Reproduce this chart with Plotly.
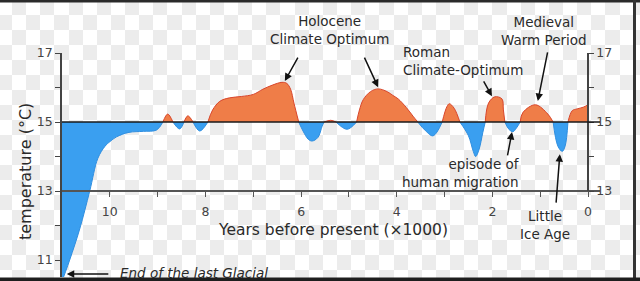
import plotly.graph_objects as go

W, H = 640, 281

# ---- data: thousand years before present vs temperature (°C) ----
years = [11.05, 10.84, 10.63, 10.42, 10.25, 10.1, 10.0, 9.86, 9.6, 9.3, 9.02, 8.89,
         8.79, 8.68,
         8.54, 8.45,
         8.37, 8.26,
         8.12, 7.95,
         7.85, 7.7, 7.5, 7.25, 7.0, 6.8, 6.6, 6.4, 6.3, 6.22, 6.15, 6.05,
         5.96, 5.85, 5.77, 5.65, 5.56, 5.52,
         5.38, 5.27,
         5.04, 4.84,
         4.78, 4.7, 4.55, 4.39, 4.2, 4.08, 3.97, 3.8, 3.66, 3.56,
         3.4, 3.24, 3.05,
         2.95, 2.9, 2.8, 2.68,
         2.5, 2.4, 2.35, 2.28, 2.2, 2.15,
         2.08, 1.95, 1.8, 1.77, 1.74,
         1.65, 1.57, 1.5, 1.42,
         1.36, 1.1, 0.84, 0.73,
         0.63, 0.54, 0.48, 0.42,
         0.33, 0.23, 0.1, 0.0]
temps = [10.2, 11.0, 11.9, 13.0, 13.95, 14.3, 14.43, 14.57, 14.7, 14.73, 14.77, 15.0,
         15.23, 15.0,
         14.8, 15.0,
         15.18, 15.0,
         14.74, 15.0,
         15.35, 15.6, 15.7, 15.74, 15.8, 15.95, 16.07, 16.15, 16.12, 15.95, 15.55, 15.0,
         14.74, 14.5, 14.45, 14.55, 14.88, 15.0,
         15.05, 15.0,
         14.79, 15.0,
         15.35, 15.65, 15.88, 15.96, 15.88, 15.77, 15.67, 15.42, 15.17, 15.0,
         14.75, 14.6, 15.0,
         15.45, 15.53, 15.4, 15.0,
         14.6, 14.15, 14.0, 14.2, 14.7, 15.0,
         15.55, 15.73, 15.67, 15.35, 15.0,
         14.78, 14.72, 14.82, 15.0,
         15.28, 15.5, 15.23, 15.0,
         14.3, 14.15, 14.3, 15.0,
         15.33, 15.38, 15.43, 15.5]
baseline = 15.0

x_ticks = [0, 1, 2, 3, 4, 5, 6, 7, 8, 9, 10]
x_ticktext = ["0", "", "2", "", "4", "", "6", "", "8", "", "10"]
yl_ticks = [11, 12, 13, 14, 15, 16, 17]
yl_ticktext = ["11", "", "13", "", "15", "", "17"]
yr_ticks = [13, 14, 15, 16, 17]
yr_ticktext = ["13", "", "15", "", "17"]

labels = ["Holocene<br>Climate Optimum", "Roman<br>Climate-Optimum", "Medieval<br>Warm Period",
          "episode of<br>human migration", "Little<br>Ice Age"]
# (head x, head y, tail x, tail y) in data units
arrows = [(6.34, 16.19, 6.05, 16.91), (4.39, 16.01, 4.69, 16.91), (2.01, 15.75, 2.2, 16.22),
          (1.05, 15.61, 0.84, 17.06), (1.59, 14.71, 1.69, 13.99), (0.59, 14.07, 0.67, 12.62),
          (10.9, 10.594, 10.0, 10.594)]

OR_FILL, OR_LINE = "#ef7d48", "#d8462c"
BL_FILL, BL_LINE = "#3a9ff0", "#2f8ee0"
FONT = "DejaVu Sans"
TXT = "#2a2a2a"

fig = go.Figure()

# checkerboard backdrop (transparent-image look)
cw, ch, x0c, y0c = 14.12, 15.0, 12 - 14.12, 0.0
cols, rows = 46, 19
hx = [x0c + cw * (c + 0.5) for c in range(cols)]
hy = [y0c + ch * (r + 0.5) for r in range(rows)]
hz = [[(r + c) % 2 for c in range(cols)] for r in range(rows)]
fig.add_trace(go.Heatmap(x=hx, y=hy, z=hz, colorscale=[[0, "#ffffff"], [1, "#ececec"]],
                         showscale=False, hoverinfo="skip", xaxis="x", yaxis="y"))

# split curve into segments between crossings of the baseline
cuts = [i for i, t in enumerate(temps) if t == baseline]
bounds = [0] + cuts + [len(temps) - 1]
for a, b in zip(bounds[:-1], bounds[1:]):
    if b <= a:
        continue
    xs = years[a:b + 1]
    ts = temps[a:b + 1]
    above = sum(t - baseline for t in ts) > 0
    fig.add_trace(go.Scatter(x=[xs[0], xs[-1]], y=[baseline, baseline], mode="lines",
                             line=dict(width=0), hoverinfo="skip", showlegend=False,
                             xaxis="x2", yaxis="y2"))
    fig.add_trace(go.Scatter(x=xs, y=ts, mode="lines", fill="tonexty",
                             fillcolor=OR_FILL if above else BL_FILL,
                             line=dict(color=OR_LINE if above else BL_LINE, width=1, shape="spline"),
                             hoverinfo="skip", showlegend=False, xaxis="x2", yaxis="y2"))

# dummy trace for right axis
fig.add_trace(go.Scatter(x=[5], y=[15], mode="markers", marker=dict(opacity=0),
                         hoverinfo="skip", showlegend=False, xaxis="x2", yaxis="y3"))

fig.add_shape(type="line", xref="x2", yref="y2", x0=11, x1=-0.25, y0=baseline, y1=baseline,
              line=dict(color="#1a1a1a", width=1.5))

def px(x):
    return x / W

def py(y):
    return 1 - y / H

# borders of the picture
fig.add_shape(type="rect", xref="paper", yref="paper", x0=0, x1=1, y0=py(2.5), y1=1,
              fillcolor="#2a2a2a", line_width=0)
fig.add_shape(type="rect", xref="paper", yref="paper", x0=px(633), x1=px(636), y0=0, y1=1,
              fillcolor="#333333", line_width=0)
fig.add_shape(type="rect", xref="paper", yref="paper", x0=0, x1=1, y0=0, y1=py(277.5),
              fillcolor="#1e1e1e", line_width=0)

tf = dict(family=FONT, size=12.5, color="#444")
ann = []
label_pos = [(329, 30, "center"), (401, 61, "left"), (544, 30.5, "center"),
             (522, 173, "right"), (545, 225, "center")]
for text, (lx, ly, al) in zip(labels, label_pos):
    ann.append(dict(text=text, xref="paper", yref="paper", x=px(lx), y=py(ly), xanchor=al,
                    yanchor="middle", align=al, showarrow=False,
                    font=dict(family=FONT, size=13.5, color=TXT)))
for hxv, hyv, txv, tyv in arrows:
    ann.append(dict(text="", x=hxv, y=hyv, ax=txv, ay=tyv, xref="x2", yref="y2", axref="x2",
                    ayref="y2", showarrow=True, arrowhead=2, arrowsize=1, arrowwidth=1.5,
                    arrowcolor="#111", standoff=0))
ann.append(dict(text="Years before present (×1000)", xref="paper", yref="paper", x=px(333),
                y=py(230), yanchor="middle", showarrow=False,
                font=dict(family=FONT, size=15.5, color=TXT)))
ann.append(dict(text="temperature (°C)", xref="paper", yref="paper", x=px(25), y=py(172),
                xanchor="center", yanchor="middle",
                textangle=-90, showarrow=False, font=dict(family=FONT, size=16, color=TXT)))
ann.append(dict(text="<i>End of the last Glacial</i>", xref="paper", yref="paper", x=px(118),
                y=py(273), xanchor="left", yanchor="middle", showarrow=False,
                font=dict(family=FONT, size=13.5, color=TXT)))

fig.update_layout(
    width=W, height=H, autosize=False,
    margin=dict(l=0, r=0, t=0, b=0, pad=0, autoexpand=False),
    paper_bgcolor="white", plot_bgcolor="rgba(0,0,0,0)", showlegend=False,
    xaxis=dict(domain=[0, 1], range=[0, W], visible=False, fixedrange=True, automargin=False),
    yaxis=dict(domain=[0, 1], range=[H, 0], visible=False, fixedrange=True, automargin=False),
    xaxis2=dict(domain=[px(62), px(600)], range=[11, -0.25], anchor="free", position=py(191),
                showline=True, linecolor="#555", linewidth=1.5, ticks="outside", ticklen=5,
                tickwidth=1, tickcolor="#555", tickvals=x_ticks, ticktext=x_ticktext,
                showgrid=False, zeroline=False, tickfont=tf, automargin=False,
                ticklabelstandoff=4),
    yaxis2=dict(domain=[py(277), py(53)], range=[10.51, 17], anchor="x2", showline=True,
                linecolor="#444", linewidth=1.5, ticks="outside", ticklen=5, tickwidth=1,
                tickcolor="#444", tickvals=yl_ticks, ticktext=yl_ticktext, showgrid=False,
                zeroline=False, tickfont=tf, automargin=False),
    yaxis3=dict(domain=[py(191), py(53)], range=[13, 17], anchor="free", position=px(588),
                side="right", showline=True, linecolor="#444", linewidth=1.5, ticks="outside",
                ticklen=5, tickwidth=1, tickcolor="#444", tickvals=yr_ticks,
                ticktext=yr_ticktext, showgrid=False, zeroline=False, tickfont=tf,
                automargin=False),
    annotations=ann,
)

fig.write_html("out.html")
